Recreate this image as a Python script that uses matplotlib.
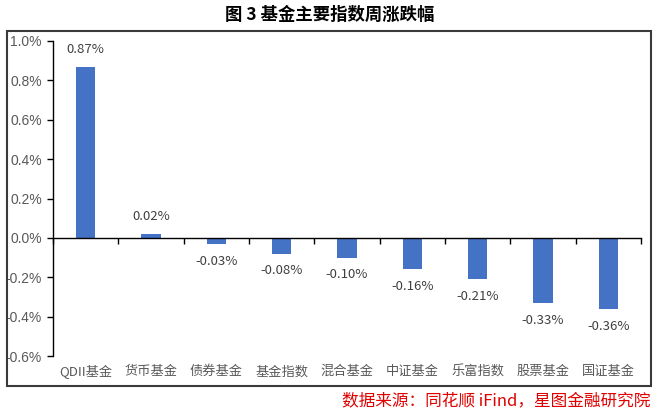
import matplotlib
matplotlib.use("Agg")
import matplotlib.pyplot as plt
from matplotlib.patches import Rectangle
from matplotlib.ticker import FixedLocator, NullFormatter

plt.rcParams['font.family'] = ['Noto Sans CJK SC', 'DejaVu Sans']

categories = ["QDII基金", "货币基金", "债券基金", "基金指数", "混合基金", "中证基金", "乐富指数", "股票基金", "国证基金"]
values = [0.87, 0.02, -0.03, -0.08, -0.10, -0.16, -0.21, -0.33, -0.36]
yticks = [1.0, 0.8, 0.6, 0.4, 0.2, 0.0, -0.2, -0.4, -0.6]
title = "图 3 基金主要指数周涨跌幅"
source = "数据来源：同花顺 iFind，星图金融研究院"

W, H = 660, 413
fig = plt.figure(figsize=(W / 100, H / 100), dpi=100)

# outer frame
fig.patches.append(Rectangle((7 / W, 1 - 386 / H), (651 - 7) / W, (386 - 31) / H,
                             transform=fig.transFigure, fill=False,
                             edgecolor="#3a3a3a", linewidth=1.5))

ax = fig.add_axes([53 / W, 1 - 356 / H, (641 - 53) / W, (356 - 41) / H])
x = list(range(len(categories)))
ax.bar(x, values, width=0.3, color="#4472C4", zorder=2)

ax.set_xlim(-0.5, len(categories) - 0.5)
ax.set_ylim(-0.6, 1.0)
ax.set_yticks(yticks)
ax.set_yticklabels([f"{v:.1f}%" for v in yticks], family=["Liberation Sans", "DejaVu Sans"])

for s in ["top", "right"]:
    ax.spines[s].set_visible(False)
ax.spines["bottom"].set_position(("data", 0))
ax.spines["bottom"].set_color("#000000")
ax.spines["bottom"].set_linewidth(1.0)
ax.spines["left"].set_linewidth(1.0)
ax.xaxis.set_major_locator(FixedLocator([i - 0.5 for i in range(len(categories) + 1)]))
ax.xaxis.set_major_formatter(NullFormatter())
ax.tick_params(axis="x", direction="out", length=4, width=1.0)
ax.tick_params(axis="y", direction="out", length=4, width=1.0, labelsize=10,
               labelcolor="#595959", pad=4)

for xi, lab in zip(x, categories):
    ax.text(xi, -0.05, lab, transform=ax.get_xaxis_transform(), ha="center",
            va="center", fontsize=9.5, color="#595959")

for xi, v in zip(x, values):
    off = 0.088
    if v >= 0:
        ax.text(xi, v + off, f"{v:.2f}%", ha="center", va="center", fontsize=9.5, color="#404040")
    else:
        ax.text(xi, v - off, f"{v:.2f}%", ha="center", va="center", fontsize=9.5, color="#404040")

fig.text(330 / W, 1 - 15 / H, title, ha="center", va="center", fontsize=12.5,
         fontweight="bold", color="#000000")
fig.text(650 / W, 1 - 401 / H, source, ha="right", va="center", fontsize=12,
         style="italic", color="#e00000")

fig.savefig("out.png", dpi=100)
